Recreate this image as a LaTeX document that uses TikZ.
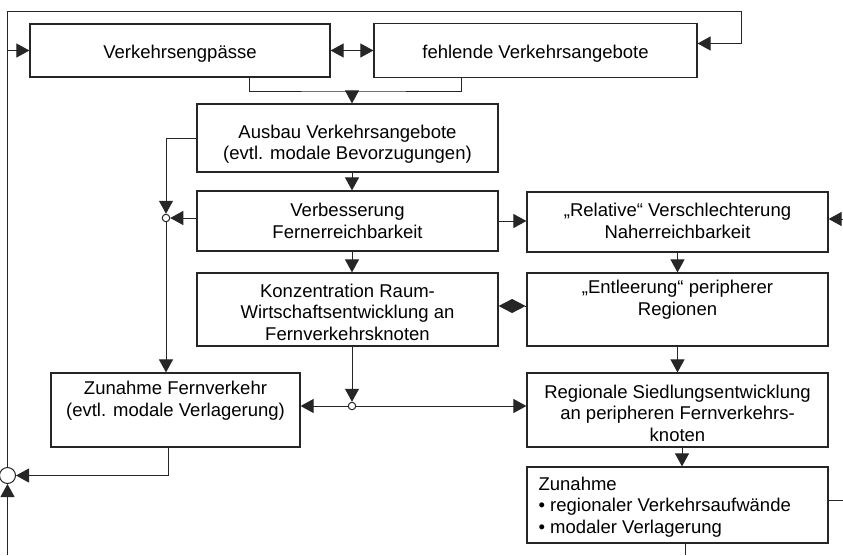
\documentclass[tikz,border=0pt]{standalone}
\usepackage{fontspec}
\setmainfont{Liberation Sans}
\usetikzlibrary{arrows.meta,calc}
\begin{document}
\begin{tikzpicture}[x=1pt,y=-1pt,
  box/.style={draw=black!85, line width=1.2pt, inner sep=0pt},
  txt/.style={inner sep=0pt, align=center, font=\fontsize{18.5}{21.5}\selectfont},
  ln/.style={draw=black!85, line width=1pt},
  tip/.style={-{Triangle[length=13pt,width=14pt]}},
  arr/.style={ln, tip},
  darr/.style={ln, {Triangle[length=13pt,width=14pt]}-{Triangle[length=13pt,width=14pt]}},
  sc/.style={circle, draw=black!85, fill=white, line width=1pt, minimum size=7.5pt, inner sep=0pt},
  bc/.style={circle, draw=black!85, fill=white, line width=1pt, minimum size=16pt, inner sep=0pt}]
\useasboundingbox (0,0) rectangle (843,555);

% boxes
\node[box, minimum width=300pt, minimum height=53pt] (B1) at (180,50.5) {};
\node[box, minimum width=323pt, minimum height=54pt] (B2) at (535.5,50.5) {};
\node[box, minimum width=301pt, minimum height=68pt] (B3) at (347.5,138) {};
\node[box, minimum width=301pt, minimum height=60pt] (B4) at (347.5,221) {};
\node[box, minimum width=301pt, minimum height=60pt] (B5) at (677.5,222) {};
\node[box, minimum width=301pt, minimum height=73pt] (B6) at (347.5,309.5) {};
\node[box, minimum width=301pt, minimum height=73pt] (B7) at (677.5,309.5) {};
\node[box, minimum width=249pt, minimum height=74pt] (B8) at (175.5,410) {};
\node[box, minimum width=301pt, minimum height=74pt] (B9) at (677.5,410) {};
\node[box, minimum width=301pt, minimum height=76pt] (B10) at (677.5,505) {};

% texts
\node[txt] (T1) at ([yshift=-3.5pt]B1.center) {Verkehrsengpässe};
\node[txt] (T2) at ([yshift=-3.5pt]B2.center) {fehlende Verkehrsangebote};
\node[txt] (T3) at ([yshift=-6pt]B3.center) {Ausbau Verkehrsangebote\\(evtl. modale Bevorzugungen)};
\node[txt] (T4) at (B4.center) {Verbesserung\\Fernerreichbarkeit};
\node[txt] (T5) at ([yshift=1pt]B5.center) {„Relative“ Verschlechterung\\Naherreichbarkeit};
\node[txt] (T6) at ([yshift=-2.5pt]B6.center) {Konzentration Raum-\\Wirtschaftsentwicklung an\\Fernverkehrsknoten};
\node[txt] (T7) at ([yshift=-2.5pt]B7.center) {„Entleerung“ peripherer\\Regionen\\\strut};
\node[txt] (T8) at ([yshift=-3pt]B8.center) {Zunahme Fernverkehr\\(evtl. modale Verlagerung)\\\strut};
\node[txt] (T9) at ([yshift=-3pt]B9.center) {Regionale Siedlungsentwicklung\\an peripheren Fernverkehrs-\\knoten};
\node[txt, anchor=west, align=left] (T10) at ([xshift=12pt,yshift=-2pt]B10.west) {Zunahme\\• regionaler Verkehrsaufwände\\• modaler Verlagerung};

% junctions
\node[sc] (s1) at (166,218) {};
\node[sc] (s2) at (352,406) {};
\node[bc] (C) at (7.5,475.5) {};

\coordinate (m) at (352,91);
\coordinate (tl) at (7.5,11);
\coordinate (tr) at (741,11);
\coordinate (r1) at (843,219);
\coordinate (r2) at (843,500);
\coordinate (b0) at (7.5,555);
\coordinate (b1) at (685.5,555);

% top
\draw[darr] (B1.east) -- (B2.west);
\draw[ln] ([xshift=69pt]B1.south) |- (m) -| ([xshift=-74.5pt]B2.south);
\draw[arr] (m) -- (m |- B3.north);
\draw[arr] (m |- B3.south) -- (m |- B4.north);
\draw[arr] (m |- B4.south) -- (m |- B6.north);

% left branch
\draw[arr] (B3.west) -| (s1.north);
\draw[arr] (B4.west |- s1) -- (s1.east);
\draw[arr] (s1.south) -- (s1 |- B8.north);

% right column
\draw[arr] (B4.east) -- (B4.east -| B5.west);
\draw[arr] (r1) -- (r1 -| B5.east);
\draw[arr] (B5.south) -- (B7.north);
\draw[ln, -{Diamond[length=27pt,width=14pt]}] ([yshift=3.5pt]B7.west) -- ([yshift=3.5pt]B7.west -| B6.east);
\draw[arr] (B7.south) -- (B9.north);
\draw[arr] ([xshift=4.5pt]B9.south) -- ([xshift=4.5pt]B9.south |- B10.north);
\draw[ln] (r2 -| B10.east) -- (r2);
\draw[ln] (b1 |- B10.south) -- (b1);

% middle junction
\draw[arr] (m |- B6.south) -- (s2.north);
\draw[arr] (s2.west) -- (s2 -| B8.east);
\draw[arr] (s2.east) -- (s2 -| B9.west);

% feedback
\draw[arr] ([xshift=-7.5pt]B8.south) |- (C.east);
\draw[arr] (b0) -- (C.south);
\draw[arr] (C.north) -- (tl) -- (tr) |- ([yshift=7pt]B2.east);
\draw[arr] (C.north |- B1.west) -- (B1.west);
\end{tikzpicture}
\end{document}
